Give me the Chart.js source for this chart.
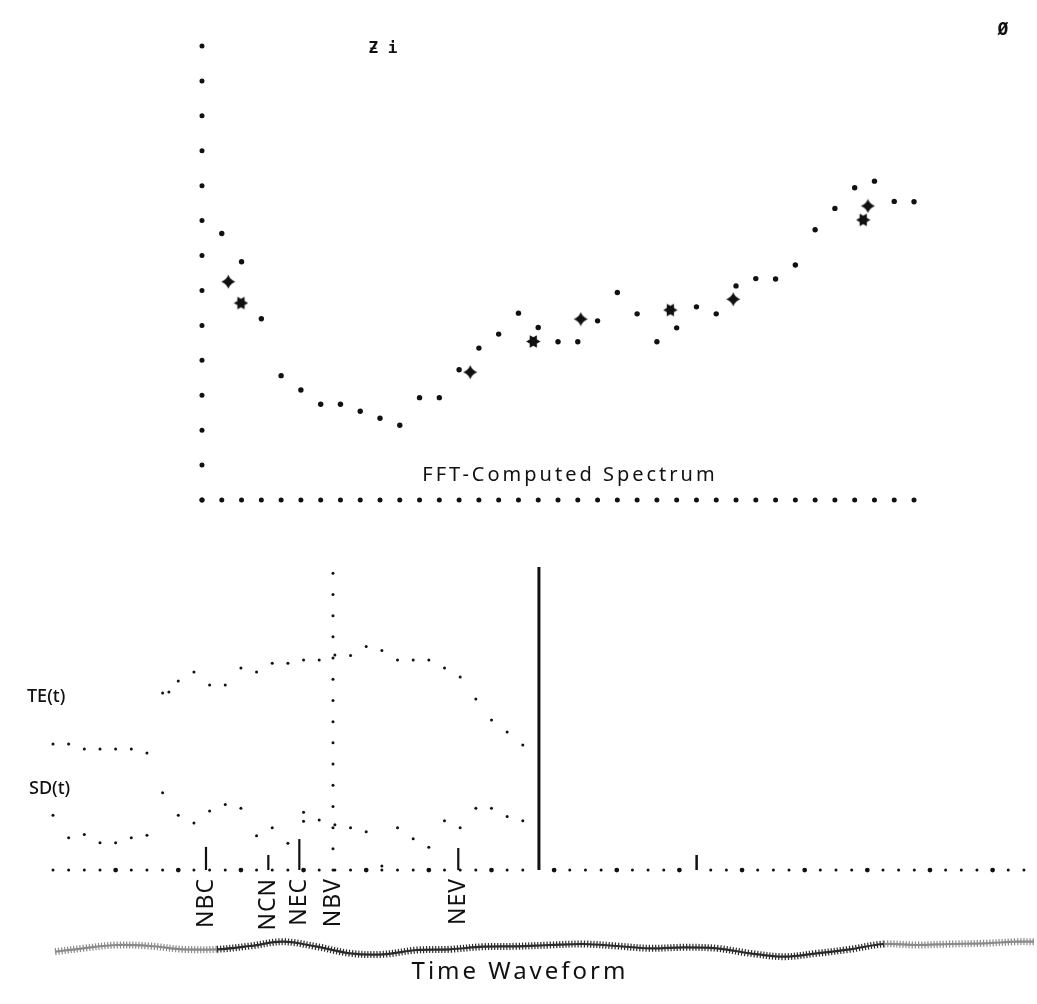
<!DOCTYPE html>
<html>
<head>
<meta charset="utf-8">
<script src="https://cdn.jsdelivr.net/npm/chart.js@4/dist/chart.umd.min.js"></script>
<style>
  html, body { margin: 0; padding: 0; background: #fff; }
  #wrap { position: relative; width: 1037px; height: 1004px; overflow: hidden; }
  canvas { position: absolute; left: 0; }
  #spec { top: 0; }
  #time { top: 530px; }
</style>
</head>
<body>
<div id="wrap">
  <canvas id="spec" width="1037" height="530"></canvas>
  <canvas id="time" width="1037" height="474"></canvas>
</div>
<script>
// ---------- FFT spectrum: level per frequency bin ----------
const specBins   = [1, 2, 3, 4, 5, 6, 7, 8, 9, 10, 11, 12, 13, 14, 15, 16, 17, 18,
                    19, 20, 21, 22, 23, 24, 25, 26, 27, 28, 29, 30, 31, 32, 33, 34, 35, 36];
const specLevels = [7.63, 6.82, 5.19, 3.56, 3.15, 2.74, 2.74, 2.54, 2.34, 2.14, 2.93, 2.93,
                    3.73, 4.35, 4.75, 5.35, 4.94, 4.53, 4.53, 5.13, 5.94, 5.33, 4.53, 4.93,
                    5.53, 5.33, 6.13, 6.34, 6.33, 6.73, 7.74, 8.35, 8.94, 9.13, 8.55, 8.54];

// formant estimates (four-point stars) and harmonic peaks (heavy asterisks)
const formantBins   = [1.33, 13.56, 19.15, 26.86, 33.67];
const formantLevels = [6.25, 3.66, 5.18, 5.75, 8.42];
const peakBins      = [1.97, 16.75, 23.68, 33.43];
const peakLevels    = [5.64, 4.54, 5.44, 8.02];

// dotted axes of the spectrum plot
const specAxisBins   = [0, 1, 2, 3, 4, 5, 6, 7, 8, 9, 10, 11, 12, 13, 14, 15, 16, 17, 18,
                        19, 20, 21, 22, 23, 24, 25, 26, 27, 28, 29, 30, 31, 32, 33, 34, 35, 36];
const specAxisLevels = [0, 1, 2, 3, 4, 5, 6, 7, 8, 9, 10, 11, 12, 13];

// ---------- time track: frame-by-frame measures ----------
const teFrames = [0, 1, 2, 3, 4, 5, 6, 7, 7.4, 8, 9, 10, 11, 12, 13, 14, 15, 16, 17, 18,
                  19, 20, 21, 22, 23, 24, 25, 26, 27, 28, 29, 30];
const teValues = [5.94, 5.94, 5.71, 5.71, 5.71, 5.71, 5.52, 8.35, 8.40, 8.92, 9.34, 8.73,
                  8.73, 9.53, 9.34, 9.76, 9.76, 9.91, 9.91, 10.14, 10.12, 10.54, 10.35, 9.91,
                  9.91, 9.91, 9.53, 9.10, 8.07, 7.08, 6.51, 5.90];

const sdFrames = [0, 1, 2, 3, 4, 5, 6, 7, 8, 9, 10, 11, 12, 13, 14, 15, 16, 16, 17, 18,
                  19, 20, 21, 22, 23, 24, 25, 26, 27, 28, 29, 30];
const sdValues = [2.58, 1.52, 1.67, 1.29, 1.29, 1.52, 1.64, 3.65, 2.58, 2.22, 2.79, 3.09,
                  2.92, 1.62, 2.00, 1.26, 2.73, 2.30, 2.36, 2.14, 2.00, 1.80, 0.19, 2.00,
                  1.47, 1.07, 2.33, 2.00, 2.92, 2.92, 2.53, 2.33];

// event markers along the time axis
const eventNames   = ['NBC', 'NCN', 'NEC', 'NBV', 'NEV'];
const eventFrames  = [9.77, 13.75, 15.73, 17.88, 25.88];
const eventHeights = [1.09, 0.71, 1.46, 0, 1.04];

// cursor (dotted vertical line) at the NBV frame
const cursorFrame  = 17.88;
const cursorLevels = [0, 1, 2, 3, 4, 5, 6, 7, 8, 9, 10, 11, 12, 13, 14];

// pulse strokes
const pulseFrames  = [31.03, 41.1];
const pulseHeights = [14.3, 0.71];

// dotted time axis
const timeAxisFrames = [0, 1, 2, 3, 4, 5, 6, 7, 8, 9, 10, 11, 12, 13, 14, 15, 16, 17, 18, 19,
                        20, 21, 22, 23, 24, 25, 26, 27, 28, 29, 30, 32, 33, 34, 35, 36, 37, 38,
                        39, 40, 42, 43, 44, 45, 46, 47, 48, 49, 50, 51, 52, 53, 54, 55, 56, 57,
                        58, 59, 60, 61, 62, 63];

// time waveform (amplitude trace)
const waveFrames = [0.13, 1.92, 4.09, 6.2, 8.3, 10.47, 12.58, 14.69, 16.86, 18.97, 21.07,
                    23.24, 25.35, 27.46, 29.63, 31.74, 33.91, 36.02, 38.12, 40.29, 42.4,
                    44.51, 46.68, 48.78, 50.89, 53.06, 55.17, 57.28, 59.45, 61.56, 62.64];
const waveValues = [-0.74, -0.06, 0.6, 0.4, -0.26, -0.26, 0.4, 1.26, 0.26, -1.06, -1.26,
                    -0.4, -0.26, 0.26, 0.34, 0.6, 0.8, 0.4, -0.06, 0.14, -0.06, -1.06,
                    -1.74, -1.06, -0.26, 0.8, 0.6, 0.8, 0.94, 1.26, 1.26];

// ---------- helpers ----------
const INK = '#111';
const FONT = '"Noto Sans", "DejaVu Sans", sans-serif';
const zip = (xs, ys) => xs.map((x, i) => ({ x, y: ys[i] }));

function starMark() {               // four-pointed star
  const c = document.createElement('canvas');
  c.width = 15; c.height = 15;
  const g = c.getContext('2d');
  g.fillStyle = INK;
  g.beginPath();
  g.moveTo(7.5, 0.5);
  g.quadraticCurveTo(9.4, 5.6, 14.5, 7.5);
  g.quadraticCurveTo(9.4, 9.4, 7.5, 14.5);
  g.quadraticCurveTo(5.6, 9.4, 0.5, 7.5);
  g.quadraticCurveTo(5.6, 5.6, 7.5, 0.5);
  g.fill();
  return c;
}
function asteriskMark() {           // heavy six-pointed asterisk
  const c = document.createElement('canvas');
  c.width = 15; c.height = 15;
  const g = c.getContext('2d');
  g.fillStyle = INK;
  g.beginPath();
  for (let i = 0; i < 12; i++) {
    const a = i * Math.PI / 6;
    const r = i % 2 === 0 ? 7.2 : 4.2;
    const px = 7.5 + r * Math.cos(a), py = 7.5 - r * Math.sin(a);
    if (i === 0) g.moveTo(px, py); else g.lineTo(px, py);
  }
  g.closePath();
  g.fill();
  return c;
}

function dots(data, radius, extra) {
  return Object.assign({
    type: 'scatter', data, pointRadius: radius, pointHoverRadius: radius,
    backgroundColor: INK, borderWidth: 0, clip: false
  }, extra || {});
}
function stroke(x, h, width) {
  return {
    type: 'line', data: [{ x, y: 0 }, { x, y: h }], showLine: true,
    borderColor: INK, borderWidth: width, pointRadius: 0, clip: false, borderCapStyle: 'butt'
  };
}
const baseOptions = (scales) => ({
  responsive: false, animation: false, devicePixelRatio: 1,
  layout: { padding: 0, autoPadding: false },
  plugins: { legend: { display: false }, tooltip: { enabled: false } },
  scales
});

// ---------- spectrum chart ----------
const specText = {
  id: 'specText',
  afterDraw(chart) {
    const g = chart.ctx;
    g.save();
    g.fillStyle = INK;
    g.textBaseline = 'middle';
    g.textAlign = 'center';
    g.font = '20px ' + FONT;
    g.letterSpacing = '3px';
    g.fillText('FFT-Computed Spectrum', 570, 475);
    g.letterSpacing = '0px';
    g.font = 'bold 16px "DejaVu Sans Mono", monospace';
    g.fillText('Ƶ i', 383, 49);
    g.font = 'bold 18px "DejaVu Sans Mono", monospace';
    g.fillText('Ø', 1003, 30);
    g.restore();
  }
};

new Chart(document.getElementById('spec'), {
  type: 'scatter',
  data: {
    datasets: [
      dots(specAxisBins.map(b => ({ x: b, y: 0 })), 2.5),
      dots(specAxisLevels.map(v => ({ x: 0, y: v })), 2.5),
      dots(zip(specBins, specLevels), 2.7),
      dots(zip(formantBins, formantLevels), 7.5, { pointStyle: starMark() }),
      dots(zip(peakBins, peakLevels), 7.5, { pointStyle: asteriskMark() })
    ]
  },
  options: baseOptions({
    x: { type: 'linear', display: false, min: -10.213, max: 42.218 },
    y: { type: 'linear', display: false, min: -0.859, max: 14.317 }
  }),
  plugins: [specText]
});

// ---------- time chart ----------
const timeText = {
  id: 'timeText',
  afterDraw(chart) {
    const g = chart.ctx;
    const xs = chart.scales.x, ys = chart.scales.y;
    g.save();
    g.fillStyle = INK;
    g.textBaseline = 'middle';
    g.textAlign = 'left';
    g.font = '500 18px ' + FONT;
    g.fillText('TE(t)', 27, 697 - 530);
    g.fillText('SD(t)', 29, 789 - 530);
    g.textAlign = 'center';
    g.font = '24px ' + FONT;
    g.letterSpacing = '3px';
    g.fillText('Time Waveform', 520, 972 - 530);
    g.letterSpacing = '1px';
    g.font = '23px ' + FONT;
    const top = ys.getPixelForValue(0) + 8;
    eventNames.forEach((name, i) => {
      g.save();
      g.translate(xs.getPixelForValue(eventFrames[i]), top);
      g.rotate(-Math.PI / 2);
      g.textAlign = 'right';
      g.textBaseline = 'middle';
      g.fillText(name, 0, 0);
      g.restore();
    });
    g.restore();
  }
};

const waveShade = s => {
  const f = s.p0.parsed.x;
  return (f < 9 || f > 53) ? '#8a8a8a' : '#2b2b2b';
};

new Chart(document.getElementById('time'), {
  type: 'scatter',
  data: {
    datasets: [
      dots(timeAxisFrames.map(f => ({ x: f, y: 0 })), ctx => {
        const f = ctx.raw ? ctx.raw.x : 0;
        return (f > 0 && f % 4 === 0) ? 2.4 : 1.5;
      }),
      dots(cursorLevels.map(v => ({ x: cursorFrame, y: v })), 1.5),
      dots(zip(teFrames, teValues), 1.5),
      dots(zip(sdFrames, sdValues), 1.5),
      stroke(pulseFrames[0], pulseHeights[0], 3),
      stroke(pulseFrames[1], pulseHeights[1], 2.5),
      ...eventFrames.map((f, i) => stroke(f, eventHeights[i], 2.2)),
      {
        type: 'line', yAxisID: 'yw', data: zip(waveFrames, waveValues), showLine: true,
        borderWidth: 7, borderDash: [1.2, 1.9], tension: 0.35, pointRadius: 0, clip: false,
        borderColor: '#555', segment: { borderColor: waveShade }
      },
      {
        type: 'line', yAxisID: 'yw', data: zip(waveFrames, waveValues), showLine: true,
        borderWidth: 2.2, tension: 0.35, pointRadius: 0, clip: false,
        borderColor: INK, segment: { borderColor: waveShade }
      }
    ]
  },
  options: baseOptions({
    x:  { type: 'linear', display: false, min: -3.384, max: 62.835 },
    y:  { type: 'linear', display: false, min: -6.32, max: 16.04 },
    yw: { type: 'linear', display: false, min: -11.2, max: 83.6 }
  }),
  plugins: [timeText]
});
</script>
</body>
</html>
